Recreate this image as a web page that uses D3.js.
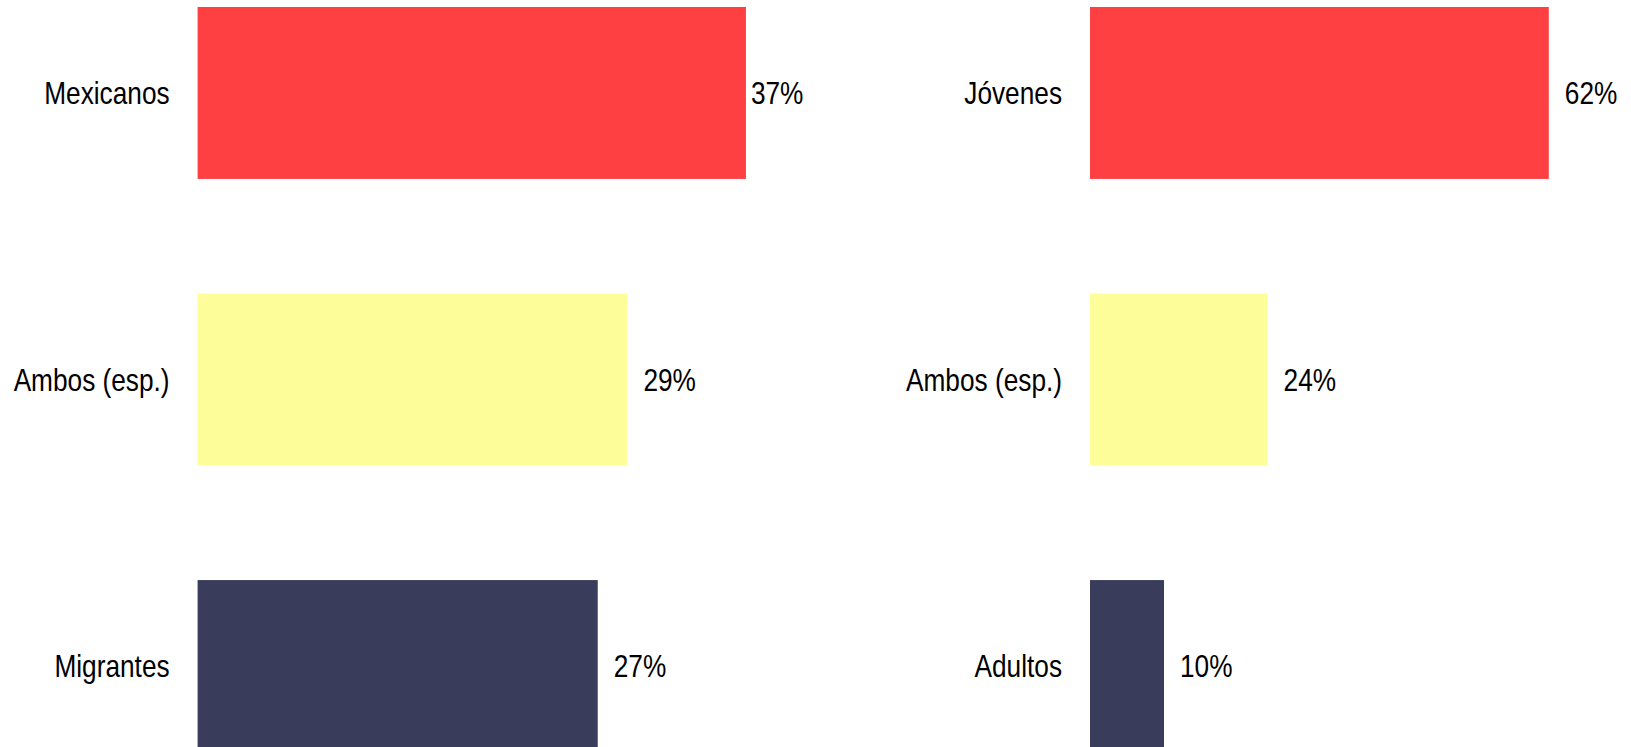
<!DOCTYPE html>
<html>
<head>
<meta charset="utf-8">
<script src="https://cdn.jsdelivr.net/npm/d3@7"></script>
<style>
  html, body { margin: 0; padding: 0; background: #fff; overflow: hidden; }
  text { font-family: "Liberation Sans", Arial, sans-serif; font-size: 32px; fill: #000; }
</style>
</head>
<body>
<svg id="chart" width="1631" height="747"></svg>
<script>
const leftCategories = ["Mexicanos", "Ambos (esp.)", "Migrantes"];
const leftValues = [37, 29, 27];
const rightCategories = ["Jóvenes", "Ambos (esp.)", "Adultos"];
const rightValues = [62, 24, 10];
const barColors = ["#ff4043", "#fdfd99", "#393c5a"];

const svg = d3.select("#chart");
const NARROW = 0.82;

function panel(cats, vals, x0, pxPerUnit, domainMax, labelLimit) {
  const x = d3.scaleLinear().domain([0, domainMax]).range([x0, x0 + pxPerUnit * domainMax]);
  const y = d3.scaleBand().domain(cats).range([7, 752]).paddingInner(0.4).paddingOuter(0);
  const g = svg.append("g");
  const data = cats.map((c, i) => ({ c, v: vals[i], color: barColors[i] }));

  g.selectAll("rect").data(data).join("rect")
    .attr("x", x(0))
    .attr("y", d => y(d.c))
    .attr("width", d => x(d.v) - x(0))
    .attr("height", y.bandwidth())
    .attr("fill", d => d.color);

  g.selectAll("g.cat").data(data).join("g")
    .attr("class", "cat")
    .attr("transform", d => `translate(${x(0) - 28},${y(d.c) + y.bandwidth() / 2}) scale(${NARROW},1)`)
    .append("text")
    .attr("dy", "0.35em")
    .attr("text-anchor", "end")
    .text(d => d.c);

  const vg = g.selectAll("g.val").data(data).join("g").attr("class", "val");
  vg.append("text")
    .attr("dy", "0.35em")
    .text(d => d.v + "%");
  vg.attr("transform", function(d) {
      const w = this.querySelector("text").getComputedTextLength() * NARROW;
      let px = x(d.v) + 16;
      if (px + w > labelLimit) px = Math.max(x(d.v) + 5, labelLimit - w);
      return `translate(${px},${y(d.c) + y.bandwidth() / 2}) scale(${NARROW},1)`;
    });
}

panel(leftCategories, leftValues, 197.6, 14.82, 40, 803);
panel(rightCategories, rightValues, 1090, 7.4, 70, 1631);
</script>
</body>
</html>
